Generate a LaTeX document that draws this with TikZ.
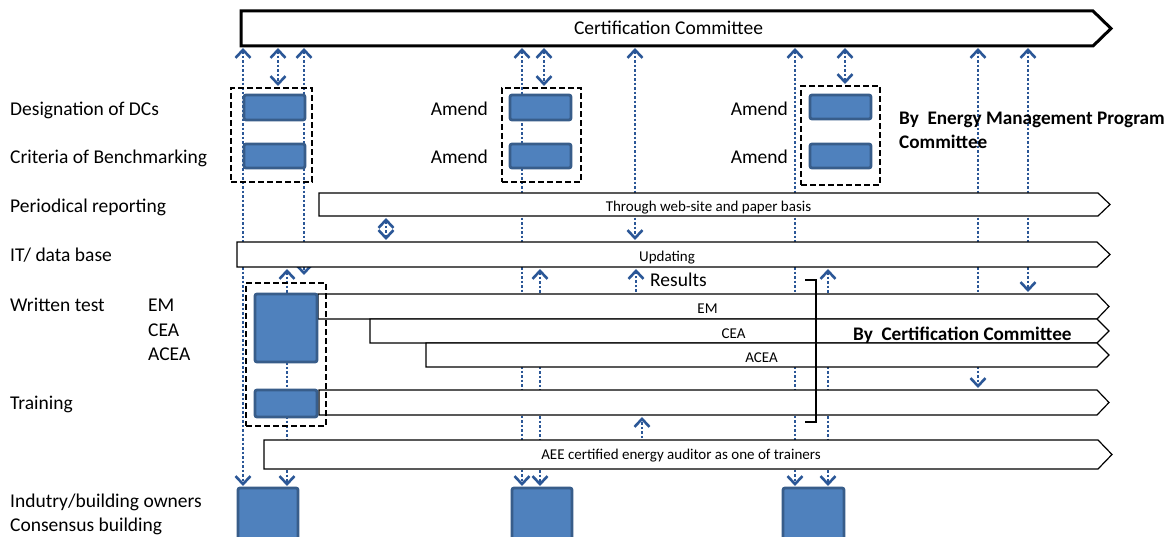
\documentclass[tikz,border=0pt]{standalone}
\usepackage{fontspec}
\setmainfont{Carlito}
\usetikzlibrary{arrows.meta,calc}
\definecolor{boxblue}{HTML}{4F81BD}
\definecolor{boxedge}{HTML}{385D8A}
\definecolor{linkblue}{HTML}{2B5797}
\pgfdeclarelayer{backdrop}
\pgfdeclarelayer{links}
\pgfdeclarelayer{bands}
\pgfsetlayers{backdrop,links,bands,main}

\begin{document}
\begin{tikzpicture}[x=1pt,y=-1pt,
  big/.style={font=\fontsize{19.5}{23}\selectfont, inner sep=0pt, text height=12.5pt, text depth=0pt},
  small/.style={font=\fontsize{15}{18}\selectfont, inner sep=0pt, text height=9.6pt, text depth=0pt},
  low/.style={text height=15pt},
  strong/.style={big, font=\fontsize{19.2}{23}\selectfont\bfseries},
  band/.style={small, inner sep=0pt, outer sep=0pt, anchor=north west},
  bandline/.style={draw=black, line width=1.2pt, fill=white, line join=miter},
  unit/.style={draw=boxedge, fill=boxblue, line width=2.8pt, rounded corners=2pt,
    inner sep=0pt, outer sep=0pt, anchor=north west},
  group/.style={draw=black, line width=2pt, dash pattern=on 6pt off 3pt,
    inner sep=0pt, outer sep=0pt, anchor=north west},
  link/.style={draw=linkblue, line width=2.4pt, dash pattern=on 2.5pt off 2pt,
    shorten >=2pt, shorten <=2pt},
  >={Straight Barb[length=8pt,width=15pt,line width=2.6pt]}
]
\useasboundingbox (0,0) rectangle (1170,537);
\clip (0,0) rectangle (1170,537);
\begin{pgfonlayer}{backdrop}
  \fill[white] (0,0) rectangle (1170,537);
\end{pgfonlayer}

% row labels
\node[big, anchor=west] (lDes)  at (10,109) {Designation of DCs};
\node[big, anchor=west] (lCri)  at (10,157) {Criteria of Benchmarking};
\node[big, anchor=west] (lPer)  at (10,206) {Periodical reporting};
\node[big, anchor=west] (lIT)   at (10,255) {IT/ data base};
\node[big, anchor=west] (lWri)  at (10,305) {Written test};
\node[big, anchor=west] (lEM)   at (148,305) {EM};
\node[big, anchor=west] (lCEA)  at (148,330) {CEA};
\node[big, anchor=west] (lACEA) at (148,354) {ACEA};
\node[big, anchor=west] (lTra)  at (10,403) {Training};
\node[big, anchor=west] (lInd)  at (10,501) {Indutry/building owners};
\node[big, anchor=west] (lCon)  at (10,525) {Consensus building};

% timeline bands
\node[band, big, minimum width=849, minimum height=35] (top) at (244,11) {Certification Committee};
\node[band, low, minimum width=779, minimum height=23] (per)  at (319,193) {Through web-site and paper basis};
\node[band, low, minimum width=860, minimum height=25] (it)   at (237,242) {Updating};
\node[band, low, minimum width=779, minimum height=25] (em)   at (318,294) {EM};
\node[band, low, minimum width=727, minimum height=24] (cea)  at (370,319) {CEA};
\node[band, low, minimum width=671, minimum height=24] (acea) at (426,343) {ACEA};
\node[band, minimum width=778, minimum height=25] (tr)   at (319,390) {};
\node[band, minimum width=834, minimum height=29] (aee)  at (264,440) {AEE certified energy auditor as one of trainers};

\begin{pgfonlayer}{bands}
  \draw[bandline, line width=3pt] ($(top.north west)+(-3,0)$) -- (top.north east) -- ($(top.east)+(18,0)$)
    -- (top.south east) -- ($(top.south west)+(-3,0)$) -- cycle;
  \foreach \b/\d in {per/12, it/13, em/12, cea/12, acea/12, tr/12, aee/14}
    \draw[bandline] (\b.north west) -- (\b.north east) -- ($(\b.east)+(\d,0)$)
      -- (\b.south east) -- (\b.south west) -- cycle;
\end{pgfonlayer}

% activity boxes
\node[unit, minimum width=61, minimum height=25] (d1) at (244,95) {};
\node[unit, minimum width=61, minimum height=24] (c1) at (244,144) {};
\node[unit, minimum width=61, minimum height=25] (d2) at (510,95) {};
\node[unit, minimum width=61, minimum height=24] (c2) at (510,144) {};
\node[unit, minimum width=61, minimum height=24] (d3) at (810,95) {};
\node[unit, minimum width=61, minimum height=24] (c3) at (810,144) {};
\node[unit, minimum width=62, minimum height=68] (wt) at (255,294) {};
\node[unit, minimum width=62, minimum height=27] (trn) at (255,390) {};
\node[unit, minimum width=60, minimum height=70] (ib1) at (238,488) {};
\node[unit, minimum width=60, minimum height=70] (ib2) at (512,488) {};
\node[unit, minimum width=61, minimum height=70] (ib3) at (783,488) {};

% dashed groupings
\node[group, minimum width=81, minimum height=94]  (g1) at (231,88) {};
\node[group, minimum width=79, minimum height=94]  (g2) at (502,88) {};
\node[group, minimum width=79, minimum height=99]  (g3) at (801,86) {};
\node[group, minimum width=80, minimum height=143] (g4) at (246,283) {};

% annotations
\node[big, anchor=east] (am1) at (488,109) {Amend};
\node[big, anchor=east] (am2) at (488,157) {Amend};
\node[big, anchor=east] (am3) at (788,109) {Amend};
\node[big, anchor=east] (am4) at (788,157) {Amend};
\node[strong, anchor=west] (emp1) at (899,118) {By\ \ Energy Management Program};
\node[strong, anchor=west] (emp2) at (899,142) {Committee};
\node[strong, anchor=west] (ccby) at (853,334) {By\ \ Certification Committee};
\node[big, anchor=west] (res) at (650,280) {Results};

% bracket beside the results
\draw[line width=1.2pt] (805,280) -- (816,280) -- (816,422) -- (805,422);

% vertical link columns
\foreach \n/\x in {a/243, b/278, c/304, d/287, e/386, f/522, g/544, h/540, i/635,
                   r/636, j/642, k/795, l/845, m/828, n/978, o/1028}
  \coordinate (col\n) at (\x,0);

\begin{pgfonlayer}{links}
  \draw[link,<->] (top.south -| cola) -- (ib1.north -| cola);
  \draw[link,<->] (top.south -| colb) -- (g1.north -| colb);
  \draw[link,<->] (top.south -| colc) -- ($(it.south -| colc)+(0,10)$);
  \draw[link,<->] (it.south -| cold) -- (ib1.north -| cold);
  \draw[link,<->] (per.south -| cole) -- (it.north -| cole);
  \draw[link,<->] (top.south -| colf) -- (ib2.north -| colf);
  \draw[link,<->] (top.south -| colg) -- (g2.north -| colg);
  \draw[link,<->] (it.south -| colh) -- (ib2.north -| colh);
  \draw[link,<->] (top.south -| coli) -- (it.north -| coli);
  \draw[link,->] (em.north -| colr) -- (it.south -| colr);
  \draw[link,->] (aee.north -| colj) -- (tr.south -| colj);
  \draw[link,<->] (top.south -| colk) -- (ib3.north -| colk);
  \draw[link,<->] (top.south -| coll) -- (g3.north -| coll);
  \draw[link,<->] (it.south -| colm) -- (ib3.north -| colm);
  \draw[link,<->] (top.south -| coln) -- (tr.north -| coln);
  \draw[link,<->] (top.south -| colo) -- (em.north -| colo);
\end{pgfonlayer}
\end{tikzpicture}
\end{document}
